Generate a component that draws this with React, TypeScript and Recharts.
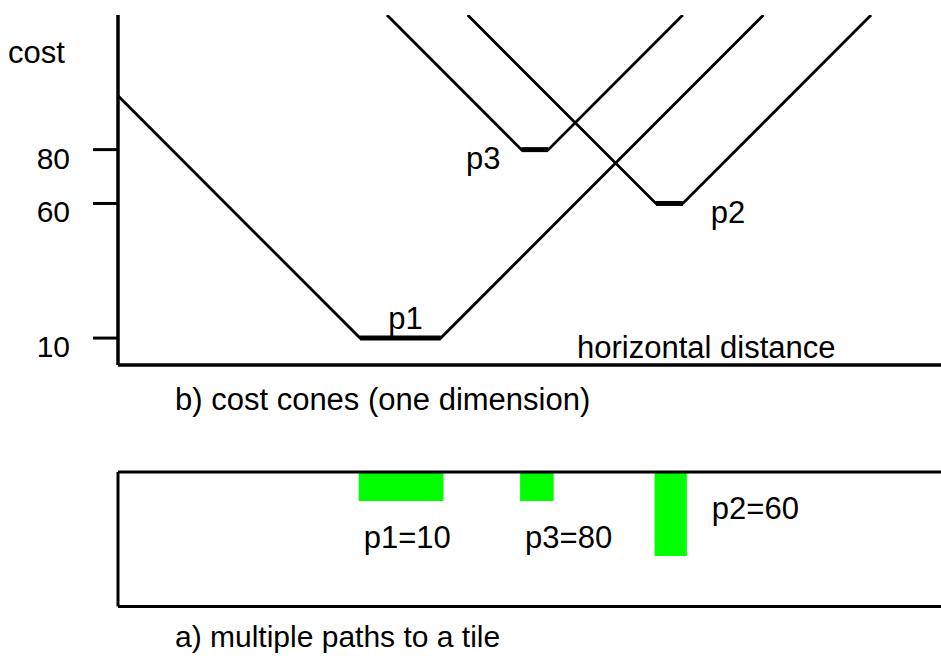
import React from 'react';
import { LineChart, Line, XAxis, YAxis, ComposedChart, ReferenceArea } from 'recharts';

const FONT = '"Liberation Sans", Arial, Helvetica, sans-serif';

// paths reaching the tile: name, cost at the tile, flat part of the cone (distance)
const pathNames = ['p1', 'p2', 'p3'];
const pathCost = [10, 60, 80];
const flatStart = [90, 200, 150];
const flatEnd = [120, 210, 160];

// cone outlines (distance, cost)
const p1ConeX = [0, 90, 120, 240];
const p1ConeY = [100, 10, 10, 130];
const p2ConeX = [130, 200, 210, 280];
const p2ConeY = [130, 60, 60, 130];
const p3ConeX = [100, 150, 160, 210];
const p3ConeY = [130, 80, 80, 130];

const costTicks = [10, 60, 80];

// green marks in the tile strip
const markStart = [89.5, 199.5, 149.5];
const markEnd = [121, 211.5, 162];
const markDepth = [29, 84, 29];

const toRows = (xs: number[], ys: number[]) => xs.map((x, i) => ({ x, y: ys[i] }));
const cones = [toRows(p1ConeX, p1ConeY), toRows(p2ConeX, p2ConeY), toRows(p3ConeX, p3ConeY)];

// where each name sits next to its flat segment
const coneLabelPos: Record<string, { at: number; dx: number; dy: number; anchor: 'start' | 'end' }> = {
  p1: { at: 1, dx: -18, dy: -9, anchor: 'end' },
  p2: { at: 1, dx: 28, dy: 20, anchor: 'start' },
  p3: { at: 0, dx: -21, dy: 19, anchor: 'end' },
};

const txt = { fontFamily: FONT, fontSize: 31, fill: '#000' };
const axisLine = { stroke: '#000', strokeWidth: 3.5 };
const boxLine = { stroke: '#000', strokeWidth: 3 };

const CostTick = (props: any) => {
  const { x, y, payload } = props;
  return (
    <text x={x} y={y + 19} textAnchor="end" {...txt} fontSize={30}>
      {payload.value}
    </text>
  );
};

const flatLabel = (name: string) => (props: any) => {
  const { cx, cy, index } = props;
  const pos = coneLabelPos[name];
  if (index !== pos.at) return <g key={`${name}-${index}`} />;
  return (
    <text key={`${name}-${index}`} x={cx + pos.dx} y={cy + pos.dy} textAnchor={pos.anchor} {...txt}>
      {name}
    </text>
  );
};

const markLabel = (i: number) => (props: any) => {
  const vb = props.viewBox || props;
  const name = pathNames[i];
  const right = name === 'p2';
  const x = right ? vb.x + vb.width + 25 : vb.x + 5;
  const y = right ? vb.y + 47 : vb.y + vb.height + 47;
  return (
    <text x={x} y={y} {...txt}>
      {`${name}=${pathCost[i]}`}
    </text>
  );
};

export default function App() {
  return (
    <div style={{ position: 'absolute', left: 0, top: 0, width: 941, height: 659, background: '#fff', fontFamily: FONT }}>
      <div style={{ position: 'absolute', left: 0, top: 0 }}>
        <LineChart width={941} height={400} margin={{ top: 15, right: 0, bottom: 0, left: 0 }}>
          <XAxis
            type="number"
            dataKey="x"
            domain={[0, 306]}
            allowDataOverflow
            height={35}
            tick={false}
            tickLine={false}
            axisLine={axisLine}
          />
          <YAxis
            type="number"
            domain={[0, 130]}
            allowDataOverflow
            ticks={costTicks}
            interval={0}
            width={118}
            tickSize={25}
            tickMargin={23}
            axisLine={axisLine}
            tickLine={{ stroke: '#000', strokeWidth: 3 }}
            tick={<CostTick />}
          />
          {cones.map((rows, i) => (
            <Line
              key={`cone-${pathNames[i]}`}
              data={rows}
              dataKey="y"
              type="linear"
              stroke="#000"
              strokeWidth={2.8}
              dot={false}
              activeDot={false}
              isAnimationActive={false}
            />
          ))}
          {pathNames.map((name, i) => (
            <Line
              key={`flat-${name}`}
              data={[
                { x: flatStart[i], y: pathCost[i] },
                { x: flatEnd[i], y: pathCost[i] },
              ]}
              dataKey="y"
              type="linear"
              stroke="#000"
              strokeWidth={5}
              dot={flatLabel(name)}
              activeDot={false}
              isAnimationActive={false}
            />
          ))}
        </LineChart>
      </div>

      <div style={{ position: 'absolute', left: 0, top: 440 }}>
        <ComposedChart
          width={941}
          height={200}
          data={pathNames.map((name, i) => ({ name, x: markStart[i] }))}
          margin={{ top: 31, right: 0, bottom: 32.5, left: 0 }}
        >
          <XAxis xAxisId="top" orientation="top" type="number" dataKey="x" domain={[0, 306]} allowDataOverflow height={1} tick={false} tickLine={false} axisLine={boxLine} />
          <XAxis xAxisId="bottom" orientation="bottom" type="number" dataKey="x" domain={[0, 306]} allowDataOverflow height={1} tick={false} tickLine={false} axisLine={boxLine} />
          <YAxis type="number" reversed domain={[0, 134.5]} allowDataOverflow width={118} tick={false} tickLine={false} axisLine={boxLine} />
          {pathNames.map((name, i) => (
            <ReferenceArea
              key={`mark-${name}`}
              xAxisId="top"
              x1={markStart[i]}
              x2={markEnd[i]}
              y1={0}
              y2={markDepth[i]}
              fill="#00ff00"
              fillOpacity={1}
              stroke="none"
              label={markLabel(i)}
            />
          ))}
        </ComposedChart>
      </div>

      <svg width={941} height={659} style={{ position: 'absolute', left: 0, top: 0, pointerEvents: 'none' }}>
        <text x={8} y={63} {...txt}>cost</text>
        <text x={577} y={358} {...txt}>horizontal distance</text>
        <text x={175} y={410} {...txt}>b) cost cones (one dimension)</text>
        <text x={175} y={647} {...txt} fontSize={30}>a) multiple paths to a tile</text>
      </svg>
    </div>
  );
}
